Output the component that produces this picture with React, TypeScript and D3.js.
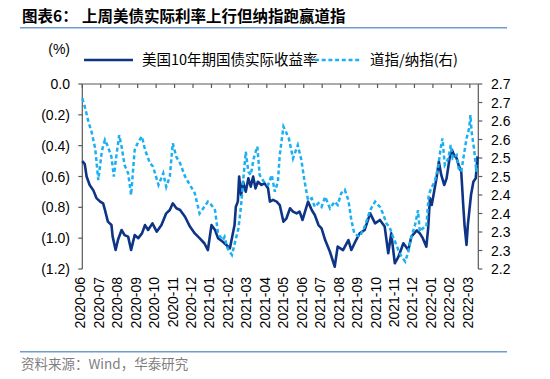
import React from "react";
import * as d3 from "d3";

const monthLabels = ["2020-06","2020-07","2020-08","2020-09","2020-10","2020-11","2020-12","2021-01","2021-02","2021-03","2021-04","2021-05","2021-06","2021-07","2021-08","2021-09","2021-10","2021-11","2021-12","2022-01","2022-02","2022-03"];
const leftTickValues = [0, -0.2, -0.4, -0.6, -0.8, -1.0, -1.2];
const leftTickLabels = ["0.0", "(0.2)", "(0.4)", "(0.6)", "(0.8)", "(1.0)", "(1.2)"];
const rightTickValues = [2.7, 2.65, 2.6, 2.55, 2.5, 2.45, 2.4, 2.35, 2.3, 2.25, 2.2];
const rightTickLabels = ["2.7","2.7","2.6","2.6","2.5","2.5","2.4","2.4","2.3","2.3","2.2"];

const realYieldDates = ["2020-06-01","2020-06-05","2020-06-08","2020-06-13","2020-06-19","2020-06-24","2020-06-30","2020-07-05","2020-07-08","2020-07-13","2020-07-19","2020-07-21","2020-07-26","2020-07-30","2020-08-05","2020-08-10","2020-08-16","2020-08-21","2020-08-27","2020-09-02","2020-09-08","2020-09-13","2020-09-18","2020-09-25","2020-10-02","2020-10-10","2020-10-18","2020-10-24","2020-10-29","2020-11-04","2020-11-10","2020-11-18","2020-11-26","2020-12-04","2020-12-12","2020-12-20","2020-12-26","2021-01-01","2021-01-07","2021-01-12","2021-01-20","2021-01-26","2021-02-01","2021-02-04","2021-02-08","2021-02-10","2021-02-13","2021-02-15","2021-02-18","2021-02-21","2021-02-25","2021-03-01","2021-03-05","2021-03-09","2021-03-13","2021-03-17","2021-03-23","2021-03-28","2021-04-03","2021-04-06","2021-04-11","2021-04-17","2021-04-22","2021-04-28","2021-05-03","2021-05-09","2021-05-14","2021-05-20","2021-05-25","2021-05-30","2021-06-08","2021-06-14","2021-06-19","2021-06-25","2021-06-30","2021-07-06","2021-07-14","2021-07-22","2021-07-27","2021-08-05","2021-08-14","2021-08-19","2021-08-27","2021-09-02","2021-09-10","2021-09-19","2021-09-27","2021-10-05","2021-10-13","2021-10-19","2021-10-24","2021-10-30","2021-11-05","2021-11-13","2021-11-21","2021-11-26","2021-12-05","2021-12-10","2021-12-15","2021-12-21","2021-12-24","2021-12-27","2021-12-30","2022-01-03","2022-01-07","2022-01-11","2022-01-15","2022-01-20","2022-01-24","2022-01-29","2022-02-02","2022-02-05","2022-02-09","2022-02-12","2022-02-16","2022-02-19","2022-02-21","2022-02-24","2022-02-26","2022-03-03","2022-03-07","2022-03-11","2022-03-14"];
const realYieldValues = [-0.50,-0.52,-0.60,-0.655,-0.69,-0.74,-0.763,-0.774,-0.817,-0.893,-0.915,-0.99,-1.077,-1.01,-0.947,-0.98,-0.99,-1.077,-0.98,-1.0,-0.969,-0.915,-0.947,-0.904,-0.958,-0.915,-0.839,-0.817,-0.774,-0.806,-0.817,-0.861,-0.925,-0.969,-1.0,-1.033,-1.077,-0.915,-0.947,-1.0,-1.023,-1.044,-1.066,-1.0,-0.915,-0.796,-0.763,-0.60,-0.72,-0.634,-0.699,-0.612,-0.666,-0.60,-0.677,-0.634,-0.655,-0.644,-0.677,-0.763,-0.752,-0.763,-0.785,-0.893,-0.871,-0.806,-0.828,-0.839,-0.828,-0.882,-0.763,-0.817,-0.85,-0.915,-0.936,-1.012,-1.088,-1.185,-1.055,-1.077,-1.012,-1.077,-1.012,-0.969,-0.947,-0.839,-0.904,-0.882,-0.925,-1.098,-0.969,-1.163,-1.12,-1.033,-1.077,-0.99,-0.95,-0.969,-1.0,-1.055,-0.936,-0.741,-0.785,-0.699,-0.612,-0.504,-0.59,-0.655,-0.612,-0.482,-0.428,-0.46,-0.482,-0.525,-0.569,-0.785,-0.915,-1.044,-0.915,-0.72,-0.634,-0.612,-0.47];

const ratioDates = ["2020-06-01","2020-06-05","2020-06-11","2020-06-16","2020-06-22","2020-06-27","2020-07-03","2020-07-08","2020-07-13","2020-07-19","2020-07-23","2020-07-27","2020-08-01","2020-08-05","2020-08-10","2020-08-16","2020-08-21","2020-08-27","2020-09-02","2020-09-08","2020-09-13","2020-09-21","2020-09-26","2020-10-05","2020-10-13","2020-10-18","2020-10-24","2020-10-29","2020-11-04","2020-11-10","2020-11-18","2020-11-26","2020-12-04","2020-12-12","2020-12-20","2020-12-26","2021-01-01","2021-01-07","2021-01-12","2021-01-20","2021-01-23","2021-01-28","2021-02-04","2021-02-09","2021-02-14","2021-02-18","2021-02-21","2021-02-25","2021-03-01","2021-03-05","2021-03-10","2021-03-16","2021-03-20","2021-03-27","2021-04-03","2021-04-09","2021-04-14","2021-04-19","2021-04-22","2021-04-28","2021-05-02","2021-05-07","2021-05-14","2021-05-22","2021-05-28","2021-06-02","2021-06-08","2021-06-14","2021-06-19","2021-06-25","2021-06-30","2021-07-06","2021-07-14","2021-07-22","2021-07-27","2021-08-02","2021-08-08","2021-08-14","2021-08-19","2021-08-24","2021-09-02","2021-09-10","2021-09-19","2021-09-27","2021-10-05","2021-10-10","2021-10-16","2021-10-21","2021-10-27","2021-11-05","2021-11-10","2021-11-16","2021-11-21","2021-11-26","2021-12-02","2021-12-07","2021-12-10","2021-12-15","2021-12-21","2021-12-25","2021-12-29","2022-01-04","2022-01-10","2022-01-14","2022-01-17","2022-01-21","2022-01-27","2022-01-31","2022-02-03","2022-02-09","2022-02-12","2022-02-16","2022-02-20","2022-02-24","2022-02-28","2022-03-02","2022-03-04","2022-03-08","2022-03-12","2022-03-14"];
const ratioValues = [2.661,2.639,2.598,2.571,2.526,2.44,2.52,2.549,2.531,2.503,2.45,2.503,2.562,2.531,2.481,2.459,2.40,2.522,2.544,2.558,2.522,2.486,2.477,2.427,2.459,2.422,2.45,2.54,2.503,2.486,2.45,2.427,2.405,2.35,2.368,2.382,2.373,2.359,2.296,2.278,2.287,2.256,2.238,2.274,2.31,2.373,2.436,2.517,2.463,2.454,2.499,2.531,2.454,2.436,2.427,2.454,2.409,2.436,2.508,2.585,2.571,2.553,2.499,2.535,2.495,2.44,2.386,2.391,2.368,2.378,2.368,2.395,2.364,2.382,2.373,2.405,2.414,2.386,2.332,2.296,2.287,2.314,2.359,2.382,2.368,2.35,2.323,2.314,2.287,2.251,2.233,2.22,2.247,2.287,2.319,2.359,2.301,2.31,2.314,2.40,2.418,2.436,2.477,2.526,2.553,2.481,2.499,2.535,2.499,2.508,2.472,2.463,2.508,2.553,2.58,2.616,2.571,2.526,2.463,2.481];

const NAVY = "#0e3485";
const LIGHT = "#1cb0f2";
const AXIS = "#595959";
const RULE = "#6f9bd1";
const NUM_FONT = "'Liberation Sans', Arial, sans-serif";
const CJK_FONT = "'Noto Sans CJK SC', sans-serif";

function monthIndex(s: string): number {
  const [y, m, d] = s.split("-").map(Number);
  const dim = new Date(y, m, 0).getDate();
  return (y - 2020) * 12 + (m - 6) + (d - 1) / dim;
}

export default function App() {
  const W = 550, H = 379;
  const x0 = 82.3, x1 = 478.3, yTop = 84, yBot = 269;
  const x = d3.scaleLinear().domain([0, 21.46]).range([x0, x1]);
  const yL = d3.scaleLinear().domain([0, -1.2]).range([yTop, yBot]);
  const yR = d3.scaleLinear().domain([2.7, 2.2]).range([yTop, yBot]);

  const realData = realYieldDates.map((d, i) => ({ m: monthIndex(d), v: realYieldValues[i] }));
  const ratioData = ratioDates.map((d, i) => ({ m: monthIndex(d), v: ratioValues[i] }));

  const lineL = d3.line<{ m: number; v: number }>().x(d => x(d.m)).y(d => yL(d.v));
  const lineR = d3.line<{ m: number; v: number }>().x(d => x(d.m)).y(d => yR(d.v));

  return (
    <svg width={W} height={H} style={{ position: "absolute", left: 0, top: 0, background: "#fff" }}>
      {/* title */}
      <text x={22} y={21.5} fontFamily={CJK_FONT} fontWeight="bold" fontSize={15.5} fill="#000">图表6：</text>
      <text x={82} y={21.5} fontFamily={CJK_FONT} fontWeight="bold" fontSize={15.5} fill="#000">上周美债实际利率上行但纳指跑赢道指</text>
      <line x1={20} x2={507} y1={27.7} y2={27.7} stroke={RULE} strokeWidth={1.5} />

      {/* unit + legend */}
      <text x={70} y={54} textAnchor="end" fontFamily={NUM_FONT} fontSize={14} fill="#000">(%)</text>
      <line x1={84} x2={133} y1={60} y2={60} stroke={NAVY} strokeWidth={2.5} />
      <text x={142} y={65} fontFamily={CJK_FONT} fontSize={14.5} fill="#000">美国10年期国债实际收益率</text>
      <line x1={315} x2={362} y1={60} y2={60} stroke={LIGHT} strokeWidth={2.5} strokeDasharray="4,2.7" />
      <text x={370} y={65} fontFamily={CJK_FONT} fontSize={14.5} fill="#000">道指/纳指(右)</text>

      {/* left axis */}
      <line x1={x0} x2={x0} y1={yTop} y2={yBot} stroke={AXIS} strokeWidth={1.2} />
      {leftTickValues.map((v, i) => (
        <g key={"l" + i}>
          <line x1={x0 - 4} x2={x0} y1={yL(v)} y2={yL(v)} stroke={AXIS} strokeWidth={1.2} />
          <text x={70} y={yL(v) + 5} textAnchor="end" fontFamily={NUM_FONT} fontSize={14} fill="#000">{leftTickLabels[i]}</text>
        </g>
      ))}

      {/* right axis */}
      <line x1={x1} x2={x1} y1={yTop} y2={yBot} stroke={AXIS} strokeWidth={1.2} />
      {rightTickValues.map((v, i) => (
        <g key={"r" + i}>
          <line x1={x1} x2={x1 + 4} y1={yR(v)} y2={yR(v)} stroke={AXIS} strokeWidth={1.2} />
          <text x={491} y={yR(v) + 5} fontFamily={NUM_FONT} fontSize={14} fill="#000">{rightTickLabels[i]}</text>
        </g>
      ))}

      {/* top category axis */}
      <line x1={x0} x2={x1} y1={yTop} y2={yTop} stroke={AXIS} strokeWidth={1.2} />
      {monthLabels.map((lab, i) => (
        <g key={"m" + i}>
          <line x1={x(i)} x2={x(i)} y1={yTop} y2={yTop + 4} stroke={AXIS} strokeWidth={1.2} />
          <text transform={`translate(${x(i) + 3},277) rotate(-90)`} textAnchor="end" fontFamily={NUM_FONT} fontSize={14} fill="#000">{lab}</text>
        </g>
      ))}

      {/* series */}
      <path d={lineL(realData) || ""} fill="none" stroke={NAVY} strokeWidth={2.6} strokeLinejoin="round" />
      <path d={lineR(ratioData) || ""} fill="none" stroke={LIGHT} strokeWidth={2.5} strokeDasharray="4,2.7" />

      {/* footer */}
      <line x1={20} x2={507} y1={351.7} y2={351.7} stroke={RULE} strokeWidth={1.5} />
      <text x={21} y={369} fontFamily={CJK_FONT} fontSize={13.5} fill="#7f7f7f">资料来源：Wind，华泰研究</text>
    </svg>
  );
}
